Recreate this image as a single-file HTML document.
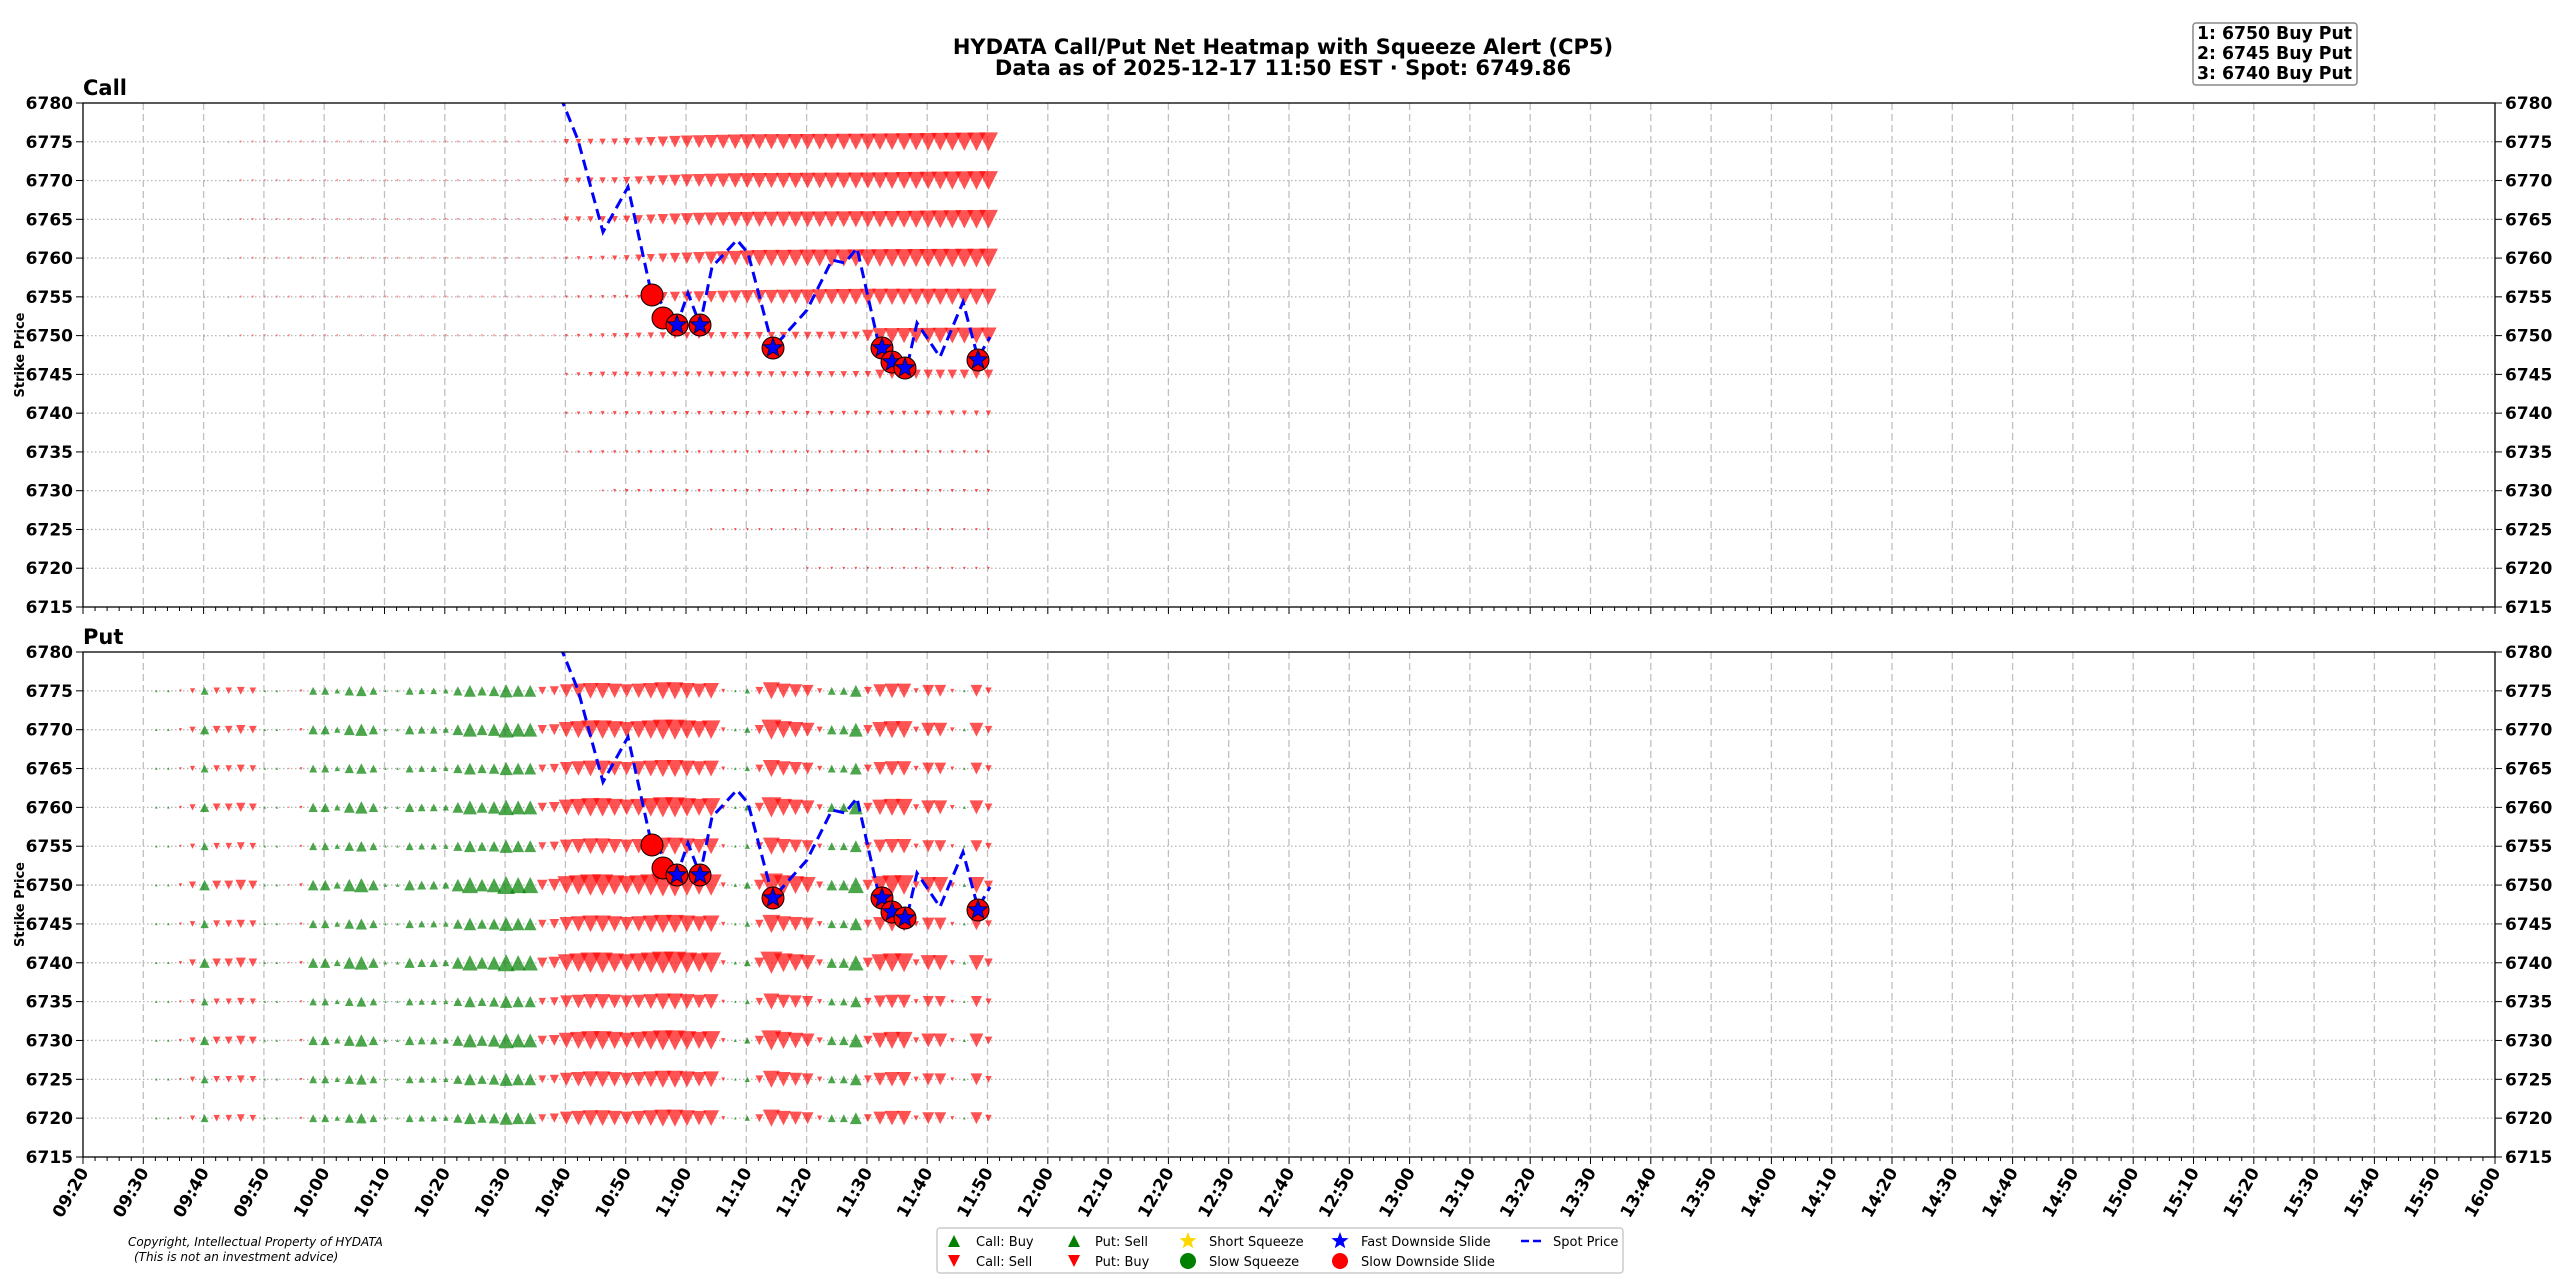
<!DOCTYPE html>
<html><head><meta charset="utf-8">
<style>
html,body{margin:0;padding:0;background:#fff;}
svg{display:block;font-family:"DejaVu Sans","Liberation Sans",sans-serif;}
</style></head>
<body>
<svg id="s" width="2560" height="1280" xmlns="http://www.w3.org/2000/svg"></svg>
<script>
const S=document.getElementById('s');
let o='';
const X0=83,X1=2495,PX=(X1-X0)/400;
const panels=[{t:103,b:607,name:'Call'},{t:652,b:1157,name:'Put'}];
function Y(p,v){return p.t+(6780-v)*(p.b-p.t)/65;}
o+=`<text x="1283" y="54" font-size="21" font-weight="bold" text-anchor="middle">HYDATA Call/Put Net Heatmap with Squeeze Alert (CP5)</text>`;
o+=`<text x="1283" y="75" font-size="21" font-weight="bold" text-anchor="middle">Data as of 2025-12-17 11:50 EST · Spot: 6749.86</text>`;
o+=`<rect x="2193" y="23" width="164" height="62" rx="3" fill="#fff" stroke="#888" stroke-width="1.5"/>`;
['1: 6750 Buy Put','2: 6745 Buy Put','3: 6740 Buy Put'].forEach((t,i)=>{o+=`<text x="2197" y="${39+i*20}" font-size="18" font-weight="bold" textLength="155" lengthAdjust="spacingAndGlyphs">${t}</text>`;});
function tri(x,y,w,up,col,op){const h=w;if(w<=0)return '';
 if(up) return `<polygon points="${x-w/2},${y+h/2} ${x+w/2},${y+h/2} ${x},${y-h/2}" fill="${col}" fill-opacity="${op}"/>`;
 return `<polygon points="${x-w/2},${y-h/2} ${x+w/2},${y-h/2} ${x},${y+h/2}" fill="${col}" fill-opacity="${op}"/>`;}
function interp(pts,x){if(x<=pts[0][0])return pts[0][1];for(let i=1;i<pts.length;i++){if(x<=pts[i][0]){const a=pts[i-1],b=pts[i];return a[1]+(b[1]-a[1])*(x-a[0])/(b[0]-a[0]);}}return pts[pts.length-1][1];}
panels.forEach((p,pi)=>{
 for(let v=6720;v<=6775;v+=5){const y=Y(p,v);o+=`<line x1="${X0}" x2="${X1}" y1="${y}" y2="${y}" stroke="#b5b5b5" stroke-width="1.3" stroke-dasharray="1.5,2.5"/>`;}
 for(let m=10;m<400;m+=10){const x=X0+m*PX;o+=`<line x1="${x}" x2="${x}" y1="${p.t}" y2="${p.b}" stroke="#c0c0c0" stroke-width="1.3" stroke-dasharray="7,4"/>`;}
 for(let m=0;m<=400;m+=2){const x=X0+m*PX;const L=m%10==0?7:4;o+=`<line x1="${x}" x2="${x}" y1="${p.b}" y2="${p.b+L}" stroke="#000" stroke-width="1"/>`;}
 for(let v=6715;v<=6780;v+=5){const y=Y(p,v);
  o+=`<line x1="${X0-7}" x2="${X0}" y1="${y}" y2="${y}" stroke="#000"/><line x1="${X1}" x2="${X1+7}" y1="${y}" y2="${y}" stroke="#000"/>`;
  o+=`<text x="${X0-10}" y="${y+6}" font-size="17" font-weight="bold" text-anchor="end">${v}</text>`;
  o+=`<text x="${X1+10}" y="${y+6}" font-size="17" font-weight="bold">${v}</text>`;}
 o+=`<text x="${X0}" y="${p.t-8}" font-size="21" font-weight="bold">${p.name}</text>`;
 const cy=(p.t+p.b)/2;
 o+=`<text x="24" y="${cy}" font-size="13" font-weight="bold" text-anchor="middle" transform="rotate(-90 24 ${cy})">Strike Price</text>`;
});
const P0=panels[0],P1=panels[1];
const callProf=[
 [[560,4],[620,5],[680,9],[740,11],[870,12],[990,14]],
 [[560,4],[620,5],[680,9],[740,11],[870,12],[990,14]],
 [[560,4],[620,5],[680,9],[740,11],[870,12],[990,14]],
 [[560,2],[620,4],[680,8],[760,12],[870,13],[990,14]],
 [[560,2],[640,3],[660,7],[750,10],[870,12],[990,12]],
 [[560,2],[660,5],[860,6],[875,11],[990,12]],
 [[560,2],[600,4],[870,5],[880,7],[990,7]],
 [[560,2],[600,3],[870,3.5],[990,4]],
 [[560,1.5],[600,2.5],[990,2.5]],
 [[600,1.5],[620,2.5],[990,2.5]],
 [[700,1.5],[720,2],[990,2]],
 [[800,1.5],[820,2],[990,2]]];
for(let r=0;r<12;r++){const v=6775-5*r,y=Y(P0,v);
 for(let k=8;k<=75;k++){const x=84+12.06*k;
  if(x<560){ if(r<6 && x>240) o+=tri(x,y,2.5,false,'red',0.45); else if(r<6&&x>190&&k%2==0) o+=tri(x,y,2,true,'green',0.4); continue;}
  const st=[560,560,560,560,560,560,560,560,560,600,700,800][r]; if(x<st)continue;
  o+=tri(x,y,interp(callProf[r],x)*1.35,false,'red',0.68);}
}
const seq={6:'g1',7:'g1',8:'r2',9:'r4',10:'g6',11:'r5',12:'r5',13:'r6',14:'r5',15:'g1',16:'g1',17:'r1',18:'r2',19:'g6',20:'g6',21:'g4',22:'g7',23:'g8',24:'g6',25:'g2',26:'g2',27:'g6',28:'g5',29:'g5',30:'g4',31:'g7',32:'g9',33:'g7',34:'g8',35:'g10',36:'g9',37:'g9',38:'r6',39:'r7',
40:'r10',41:'r11',42:'r12',43:'r12',44:'r11',45:'r10',46:'r11',47:'r12',48:'r13',49:'r13',50:'r12',51:'r11',52:'r12',53:'r3',54:'g2',55:'g4',56:'r6',57:'r13',58:'r11',59:'r10',60:'r9',61:'r4',62:'g6',63:'g6',64:'g9',65:'r6',66:'r10',67:'r11',68:'r11',69:'r4',70:'r9',71:'r9',72:'r3',73:'g2',74:'r9',75:'r5'};
const rowM=[0.85,1.0,0.85,1.0,0.85,1.15,0.9,1.1,0.8,1.0,0.85,0.85];
for(let r=0;r<12;r++){const v=6775-5*r,y=Y(P1,v);
 for(let k=6;k<=75;k++){const s=seq[k];if(!s)continue;const x=84+12.06*k;
  const g=s[0]=='g';let w=parseFloat(s.slice(1))*1.55*rowM[r];
  if(g&&w<3)w=Math.max(w,2.5);
  o+=tri(x,y,w,g,g?'green':'red',g?0.7:0.68);}
}
const pts=[[560,96],[563,103],[578,140],[603,232],[628,187],[650,287],[677,325],[688,293],[700,325],[712,267],[737,240],[748,253],[773,348],[807,310],[832,260],[845,263],[857,248],[880,350],[893,360],[907,367],[917,323],[940,357],[963,302],[978,358],[990,337]];
const circ=[[652,295],[663,318]];
const cs=[[677,325],[700,325],[773,348],[882,348],[892,362],[905,368],[978,360]];
function star(cx,cy,R){let s='';for(let i=0;i<10;i++){const a=-Math.PI/2+i*Math.PI/5;const rr=i%2?R*0.42:R;s+=`${cx+rr*Math.cos(a)},${cy+rr*Math.sin(a)} `;}return `<polygon points="${s}" fill="blue" stroke="#000022" stroke-width="0.8"/>`;}
o+=`<defs><clipPath id="c0"><rect x="${X0}" y="${P0.t}" width="${X1-X0}" height="${P0.b-P0.t}"/></clipPath><clipPath id="c1"><rect x="${X0}" y="${P1.t}" width="${X1-X0}" height="${P1.b-P1.t}"/></clipPath></defs>`;
[0,550].forEach((dy,i)=>{
 o+=`<g clip-path="url(#c${i})"><polyline points="${pts.map(q=>q[0]+','+(q[1]+dy)).join(' ')}" fill="none" stroke="blue" stroke-width="3" stroke-dasharray="11,6"/></g>`;
 circ.forEach(c=>{o+=`<circle cx="${c[0]}" cy="${c[1]+dy}" r="11" fill="red" stroke="#000" stroke-width="1"/>`;});
 cs.forEach(c=>{o+=`<circle cx="${c[0]}" cy="${c[1]+dy}" r="11" fill="red" stroke="#000" stroke-width="1"/>`+star(c[0],c[1]+dy,10);});
});
panels.forEach(p=>{o+=`<rect x="${X0}" y="${p.t}" width="${X1-X0}" height="${p.b-p.t}" fill="none" stroke="#000" stroke-width="1.3"/>`;});
for(let m=0;m<=400;m+=10){const x=X0+m*PX;const tm=9*60+20+m;const hh=String(Math.floor(tm/60)).padStart(2,'0'),mm=String(tm%60).padStart(2,'0');
 o+=`<text x="${x+6}" y="${1172}" font-size="17" font-weight="bold" text-anchor="end" transform="rotate(-60 ${x+6} 1172)">${hh}:${mm}</text>`;}
o+=`<text x="128" y="1246" font-size="12" font-style="italic">Copyright, Intellectual Property of HYDATA</text>`;
o+=`<text x="134" y="1261" font-size="12" font-style="italic">(This is not an investment advice)</text>`;
o+=`<rect x="937" y="1228" width="686" height="45" rx="3" fill="#fff" stroke="#ccc" stroke-width="1.5"/>`;
const fs=13;
o+=tri(954,1241,12,true,'green',1)+`<text x="976" y="1246" font-size="${fs}">Call: Buy</text>`;
o+=tri(954,1261,12,false,'red',1)+`<text x="976" y="1266" font-size="${fs}">Call: Sell</text>`;
o+=tri(1074,1241,12,true,'green',1)+`<text x="1095" y="1246" font-size="${fs}">Put: Sell</text>`;
o+=tri(1074,1261,12,false,'red',1)+`<text x="1095" y="1266" font-size="${fs}">Put: Buy</text>`;
function star2(cx,cy,R,c){let s='';for(let i=0;i<10;i++){const a=-Math.PI/2+i*Math.PI/5;const rr=i%2?R*0.42:R;s+=`${cx+rr*Math.cos(a)},${cy+rr*Math.sin(a)} `;}return `<polygon points="${s}" fill="${c}"/>`;}
o+=star2(1188,1241,9,'gold')+`<text x="1209" y="1246" font-size="${fs}">Short Squeeze</text>`;
o+=`<circle cx="1188" cy="1261" r="8" fill="green"/><text x="1209" y="1266" font-size="${fs}">Slow Squeeze</text>`;
o+=star2(1340,1241,9,'blue')+`<text x="1361" y="1246" font-size="${fs}">Fast Downside Slide</text>`;
o+=`<circle cx="1340" cy="1261" r="8" fill="red"/><text x="1361" y="1266" font-size="${fs}">Slow Downside Slide</text>`;
o+=`<line x1="1521" x2="1543" y1="1241" y2="1241" stroke="blue" stroke-width="2.5" stroke-dasharray="8,4"/><text x="1553" y="1246" font-size="${fs}">Spot Price</text>`;
S.innerHTML=o;
</script>
</body></html>
